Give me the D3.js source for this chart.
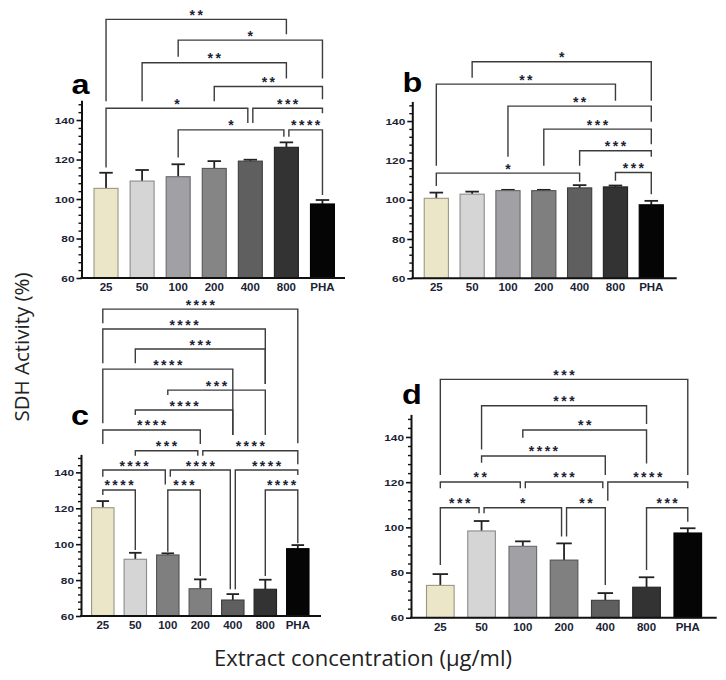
<!DOCTYPE html>
<html>
<head>
<meta charset="utf-8">
<script src="https://cdn.jsdelivr.net/npm/d3@7"></script>
<style>
  html, body { margin: 0; padding: 0; background: #fff; }
  svg { display: block; }
</style>
</head>
<body>
<svg id="chart" width="726" height="680"></svg>
<script>
// ---------------- DATA ----------------
const categories = ["25", "50", "100", "200", "400", "800", "PHA"];
const yTickValues = [60, 80, 100, 120, 140];

// bar means (SDH activity, %)
const meanA = [105.4, 109.1, 111.3, 115.5, 119.2, 126.2, 97.5];
const meanB = [100.7, 102.8, 104.6, 104.6, 106.0, 106.5, 97.4];
const meanC = [120.3, 91.6, 94.0, 75.2, 68.9, 74.9, 97.5];
const meanD = [74.3, 98.4, 91.6, 85.5, 67.7, 73.5, 97.5];

// upper error (SD) on each bar
const errA = [7.9, 5.6, 6.3, 3.7, 0.7, 2.5, 2.0];
const errB = [2.9, 1.3, 0.4, 0.4, 1.4, 0.7, 2.0];
const errC = [3.7, 3.6, 0.9, 5.2, 3.3, 5.3, 2.0];
const errD = [5.0, 4.4, 2.2, 7.4, 3.2, 4.4, 2.1];

// bar fills
const colorsA = ["#ece6c9", "#d5d5d5", "#a1a1a5", "#858585", "#5f5f5f", "#333333", "#050505"];
const colorsB = ["#ece6c9", "#d5d5d5", "#a1a1a5", "#7f7f7f", "#5f5f5f", "#333333", "#050505"];
const colorsC = ["#ece6c9", "#d5d5d5", "#7f7f7f", "#808080", "#5f5f5f", "#333333", "#050505"];
const colorsD = ["#ece6c9", "#d5d5d5", "#a1a1a5", "#808080", "#5f5f5f", "#333333", "#050505"];

// significance brackets: [fromBar, toBar, label, bracketLevel, leftLegEnd, rightLegEnd] (data units)
const bracketsA = [
  [0, 5, "**", 191, 149.5, 183.5],
  [2, 6, "*", 180.5, 172, 161],
  [1, 5, "**", 169, 149.5, 161],
  [3, 6, "**", 157, 149.5, 150.5],
  [0, 4, "*", 146, 116, 138.5],
  [4, 6, "***", 146, 138.5, 143.5],
  [2, 5, "*", 135, 121, 131.5],
  [5, 6, "****", 135, 131.5, 102]
];
const bracketsB = [
  [1, 6, "*", 170.2, 162, 150.3],
  [0, 5, "**", 158.8, 117.3, 150.3],
  [2, 6, "**", 147.6, 121.9, 139.7],
  [3, 6, "***", 135.9, 117.3, 128.2],
  [4, 6, "***", 124.9, 117.3, 121.9],
  [0, 4, "*", 113.5, 106.9, 109.1],
  [5, 6, "***", 113.8, 109.6, 102.7]
];
const bracketsC = [
  [0, 6, "****", 230.9, 223, 156.2],
  [0, 5, "****", 219.8, 200.7, 189.2],
  [1, 5, "***", 208.7, 200.7, 189.2],
  [0, 4, "****", 197.5, 167.3, 160.8],
  [2, 5, "***", 185.8, 183.1, 160.8],
  [1, 4, "****", 174.7, 171.9, 160.8],
  [0, 3, "****", 163.6, 155.8, 155.8],
  [1, 3, "***", 152, 149.3, 149.3],
  [3, 6, "****", 152, 149.3, 144.5],
  [0, 2, "****", 141.3, 137.6, 133.3],
  [2, 4, "****", 141.3, 137.6, 74.9],
  [4, 6, "****", 141.3, 74.9, 138.5],
  [0, 1, "****", 130.2, 127.4, 96.7],
  [2, 3, "***", 130.2, 95.8, 82.3],
  [5, 6, "****", 130.2, 82.3, 100.5]
];
const bracketsD = [
  [0, 6, "***", 165.5, 123.2, 123.2],
  [1, 5, "***", 153.8, 134.5, 145.7],
  [2, 5, "**", 143.1, 139.7, 128.3],
  [1, 4, "****", 131.6, 128.6, 123.2],
  [0, 2, "**", 120.1, 117.3, 117.3],
  [2, 4, "***", 120.1, 117.3, 117.3],
  [4, 6, "****", 120.1, 111.8, 117.3],
  [0, 1, "***", 108.7, 83.3, 106.2],
  [1, 3, "*", 108.7, 106.2, 95.9],
  [3, 4, "**", 108.7, 95.9, 74.5],
  [5, 6, "***", 108.7, 81.1, 102.5]
];

const panelLetters = ["a", "b", "c", "d"];
const yTitle = "SDH Activity (%)";
const xTitle = "Extract concentration (µg/ml)";

// ---------------- LAYOUT ----------------
const panels = [
  { letter: panelLetters[0], mean: meanA, err: errA, colors: colorsA, brackets: bracketsA,
    axisX: 81.5, bandL: 88, bandR: 340.5, pad: 0.335, yBot: 278, yTop: 100.3, axisEnd: 345, lx: 80.5, ly: 94 },
  { letter: panelLetters[1], mean: meanB, err: errB, colors: colorsB, brackets: bracketsB,
    axisX: 412.3, bandL: 418.4, bandR: 669.2, pad: 0.325, yBot: 278.3, yTop: 101.4, axisEnd: 676.7, lx: 412.5, ly: 92.3 },
  { letter: panelLetters[2], mean: meanC, err: errC, colors: colorsC, brackets: bracketsC,
    axisX: 81, bandL: 86.55, bandR: 314.05, pad: 0.31, yBot: 616, yTop: 454.4, axisEnd: 321, lx: 80, ly: 425 },
  { letter: panelLetters[3], mean: meanD, err: errD, colors: colorsD, brackets: bracketsD,
    axisX: 411, bandL: 419.7, bandR: 708.4, pad: 0.33, yBot: 617.7, yTop: 414.4, axisEnd: 716.7, lx: 412, ly: 404 }
];

const svg = d3.select("#chart");
svg.append("rect").attr("width", 726).attr("height", 680).attr("fill", "#fff");

const labelColor = "#1c1f36";
const bracketColor = "#3c3c3c";
const starSpacing = 2.5;

panels.forEach(p => {
  const g = svg.append("g");
  const x = d3.scaleBand().domain(categories).range([p.bandL, p.bandR]).paddingInner(p.pad).paddingOuter(p.pad / 2);
  const y = d3.scaleLinear().domain([60, 150]).range([p.yBot, p.yTop]);
  const bw = x.bandwidth();
  const cx = i => x(categories[i]) + bw / 2;

  const rows = categories.map((c, i) => ({ c, i, m: p.mean[i], e: p.err[i], col: p.colors[i] }));

  // error bars (upper only)
  const eg = g.append("g");
  eg.selectAll("line.v").data(rows).join("line")
    .attr("x1", d => cx(d.i)).attr("x2", d => cx(d.i))
    .attr("y1", d => y(d.m)).attr("y2", d => y(d.m + d.e))
    .attr("stroke", "#222").attr("stroke-width", 1.8);
  eg.selectAll("line.c").data(rows).join("line")
    .attr("x1", d => cx(d.i) - bw * 0.28).attr("x2", d => cx(d.i) + bw * 0.28)
    .attr("y1", d => y(d.m + d.e)).attr("y2", d => y(d.m + d.e))
    .attr("stroke", "#222").attr("stroke-width", 1.8);

  // bars
  g.append("g").selectAll("rect").data(rows).join("rect")
    .attr("x", d => x(d.c)).attr("width", bw)
    .attr("y", d => y(d.m)).attr("height", d => y(60) - y(d.m))
    .attr("fill", d => d.col)
    .attr("stroke", d => d3.color(d.col).darker(1.2).formatHex())
    .attr("stroke-width", 1.1);

  // brackets
  const bg = g.append("g");
  p.brackets.forEach((b, k) => {
    const [from, to, lab, lvl, le, re] = b;
    let xl = cx(from), xr = cx(to);
    p.brackets.forEach((o, j) => {
      if (j === k || Math.abs(o[3] - lvl) > 0.6) return;
      if (o[0] === to) xr -= 2.5;
      if (o[1] === from) xl += 2.5;
    });
    bg.append("path")
      .attr("d", `M${xl},${y(le)}V${y(lvl)}H${xr}V${y(re)}`)
      .attr("fill", "none").attr("stroke", bracketColor).attr("stroke-width", 1.4);
    bg.append("text")
      .attr("x", (xl + xr) / 2 + starSpacing / 2).attr("y", y(lvl) + 0.5)
      .attr("text-anchor", "middle")
      .attr("font-family", "Liberation Sans, Arial, sans-serif")
      .attr("font-weight", "bold").attr("font-size", 14)
      .attr("letter-spacing", starSpacing)
      .attr("fill", labelColor).text(lab);
  });

  // y axis (major)
  const ya = g.append("g").attr("transform", `translate(${p.axisX},0)`)
    .call(d3.axisLeft(y).tickValues(yTickValues).tickSize(5).tickSizeOuter(0).tickPadding(2));
  ya.select(".domain").attr("stroke", "#111").attr("stroke-width", 2);
  ya.selectAll(".tick line").attr("stroke", "#111").attr("stroke-width", 1.6);
  ya.selectAll(".tick text")
    .attr("font-family", "Liberation Sans, Arial, sans-serif")
    .attr("font-weight", "bold").attr("font-size", 9.5).attr("fill", labelColor)
    .each(function () {
      const t = d3.select(this);
      const xv = +t.attr("x");
      t.attr("x", xv / 1.25).attr("transform", "scale(1.25,1)");
    });
  // minor ticks
  const ym = g.append("g").attr("transform", `translate(${p.axisX},0)`)
    .call(d3.axisLeft(y).tickValues(d3.range(60, 151, 4).filter(v => v % 20 !== 0)).tickSize(3).tickFormat(""));
  ym.select(".domain").remove();
  ym.selectAll(".tick line").attr("stroke", "#111").attr("stroke-width", 1.4);

  // x axis
  const xa = g.append("g").attr("transform", `translate(0,${y(60)})`)
    .call(d3.axisBottom(x).tickSize(0).tickPadding(5));
  xa.select(".domain").remove();
  xa.selectAll(".tick text")
    .attr("font-family", "Liberation Sans, Arial, sans-serif")
    .attr("font-weight", "bold").attr("font-size", 11.5).attr("fill", labelColor);
  g.append("line")
    .attr("x1", p.axisX - 1).attr("x2", p.axisEnd)
    .attr("y1", y(60)).attr("y2", y(60))
    .attr("stroke", "#111").attr("stroke-width", 2);

  // panel letter
  g.append("text")
    .attr("transform", `translate(${p.lx},${p.ly}) scale(1.2,1)`)
    .attr("text-anchor", "middle")
    .attr("font-family", "Liberation Sans, Arial, sans-serif")
    .attr("font-weight", "bold").attr("font-size", 27)
    .attr("fill", "#000").text(p.letter);
});

// axis titles
svg.append("text")
  .attr("transform", "translate(29,347) rotate(-90)")
  .attr("text-anchor", "middle")
  .attr("font-family", "Open Sans, Noto Sans, sans-serif")
  .attr("font-size", 20.5).attr("fill", "#222")
  .text(yTitle);

svg.append("text")
  .attr("x", 363).attr("y", 666)
  .attr("text-anchor", "middle")
  .attr("font-family", "Open Sans, Noto Sans, sans-serif")
  .attr("font-size", 22).attr("fill", "#222")
  .text(xTitle);
</script>
</body>
</html>
